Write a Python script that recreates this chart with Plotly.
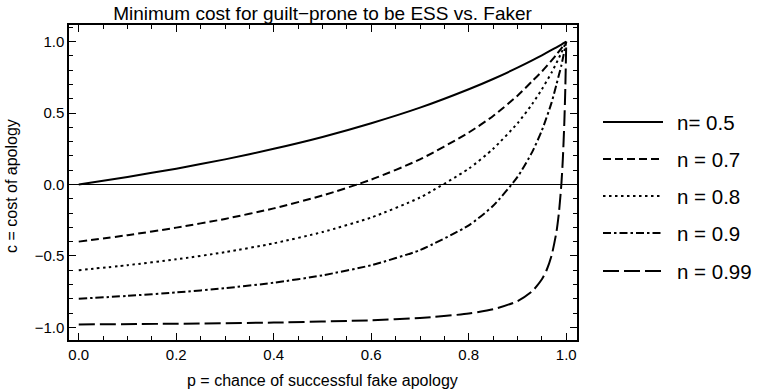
import plotly.graph_objects as go

# Values
p_vals = [0.0, 0.1, 0.2, 0.3, 0.4, 0.5, 0.6, 0.7, 0.8, 0.85, 0.9, 0.93, 0.95, 0.97, 0.98, 0.99, 1.0]
c_n05 = [0.0, 0.053, 0.111, 0.176, 0.25, 0.333, 0.429, 0.538, 0.667, 0.739, 0.818, 0.869, 0.905, 0.942, 0.961, 0.980, 1.0]
c_n07 = [-0.4, -0.355, -0.302, -0.241, -0.167, -0.077, 0.034, 0.176, 0.364, 0.480, 0.622, 0.723, 0.791, 0.869, 0.910, 0.954, 1.0]
c_n08 = [-0.6, -0.565, -0.524, -0.474, -0.412, -0.333, -0.231, -0.091, 0.111, 0.250, 0.429, 0.563, 0.667, 0.785, 0.852, 0.923, 1.0]
c_n09 = [-0.8, -0.780, -0.756, -0.726, -0.688, -0.636, -0.565, -0.459, -0.286, -0.149, 0.053, 0.227, 0.379, 0.575, 0.703, 0.835, 1.0]

p_n099 = [0.0, 0.2, 0.4, 0.6, 0.7, 0.8, 0.85, 0.9, 0.93, 0.95, 0.96, 0.97, 0.98, 0.985, 0.99, 0.993, 0.996, 0.998, 1.0]
c_n099 = [-0.98, -0.975, -0.967, -0.951, -0.935, -0.904, -0.874, -0.817, -0.748, -0.664, -0.597, -0.496, -0.329, -0.195, 0.005, 0.181, 0.433, 0.669, 1.0]

labels = ["n= 0.5", "n = 0.7", "n = 0.8", "n = 0.9", "n = 0.99"]
dashes = ["solid", "8px,4px", "2.5px,3.5px", "8px,3px,2.5px,3px", "16px,5px"]

series = [(p_vals, c_n05), (p_vals, c_n07), (p_vals, c_n08), (p_vals, c_n09), (p_n099, c_n099)]

FONT = "Liberation Sans, Arial, Helvetica"

fig = go.Figure()
for (xs, ys), lab, d in zip(series, labels, dashes):
    fig.add_trace(go.Scatter(x=xs, y=ys, mode="lines", name=lab,
                             line=dict(color="black", width=2, dash=d, shape="spline", smoothing=0.6),
                             showlegend=False))

# Manual legend (longer line samples like the original)
L, R, T, B = 69, 577, 25, 340
W, H = R - L, B - T
leg_y = [122, 159, 196, 233, 271]
for lab, d, py in zip(labels, dashes, leg_y):
    yy = (B - py) / H
    fig.add_shape(type="line", xref="paper", yref="paper",
                  x0=(603 - L) / W, x1=(663 - L) / W, y0=yy, y1=yy,
                  line=dict(color="black", width=2, dash=d))
    fig.add_annotation(xref="paper", yref="paper", x=(675 - L) / W, y=yy,
                       text=lab, showarrow=False, xanchor="left", yanchor="middle",
                       font=dict(size=20.5, color="black", family=FONT))

# Axis titles
fig.add_annotation(xref="paper", yref="paper", x=(322 - L) / W, y=(B - 380) / H,
                   text="p = chance of successful fake apology", showarrow=False,
                   xanchor="center", yanchor="middle",
                   font=dict(size=16, color="black", family=FONT))
fig.add_annotation(xref="paper", yref="paper", x=(11 - L) / W, y=(B - 186) / H,
                   text="c = cost of apology", showarrow=False, textangle=-90,
                   xanchor="center", yanchor="middle",
                   font=dict(size=16, color="black", family=FONT))

fig.update_layout(
    width=758, height=392,
    margin=dict(l=L, r=758 - R, t=T, b=392 - B, autoexpand=False),
    paper_bgcolor="white", plot_bgcolor="white",
    font=dict(family=FONT, color="black", size=15),
    title=dict(text="Minimum cost for guilt\u2212prone to be ESS vs. Faker",
               x=322.5 / 758, xanchor="center", y=1 - 13 / 392, yanchor="middle",
               font=dict(size=19, color="black"), automargin=False),
    xaxis=dict(range=[-0.02, 1.022], tick0=0, dtick=0.2, tickformat=".1f",
               ticks="inside", ticklen=7, tickwidth=1, tickcolor="black",
               showline=True, linecolor="black", linewidth=1.5, mirror="allticks",
               showgrid=False, zeroline=False, automargin=False,
               minor=dict(dtick=0.05, ticks="inside", ticklen=4, tickcolor="black", showgrid=False),
               tickfont=dict(size=15)),
    yaxis=dict(range=[-1.089, 1.117], tick0=0, dtick=0.5, tickformat=".1f",
               ticks="inside", ticklen=7, tickwidth=1, tickcolor="black",
               showline=True, linecolor="black", linewidth=1.5, mirror="allticks",
               showgrid=False, zeroline=True, zerolinecolor="black", zerolinewidth=1,
               automargin=False,
               minor=dict(dtick=0.1, ticks="inside", ticklen=4, tickcolor="black", showgrid=False),
               tickfont=dict(size=15)),
)

fig.write_html("out.html", config={"displayModeBar": False},
               post_script="document.body.style.margin='0';document.body.style.padding='0';")
